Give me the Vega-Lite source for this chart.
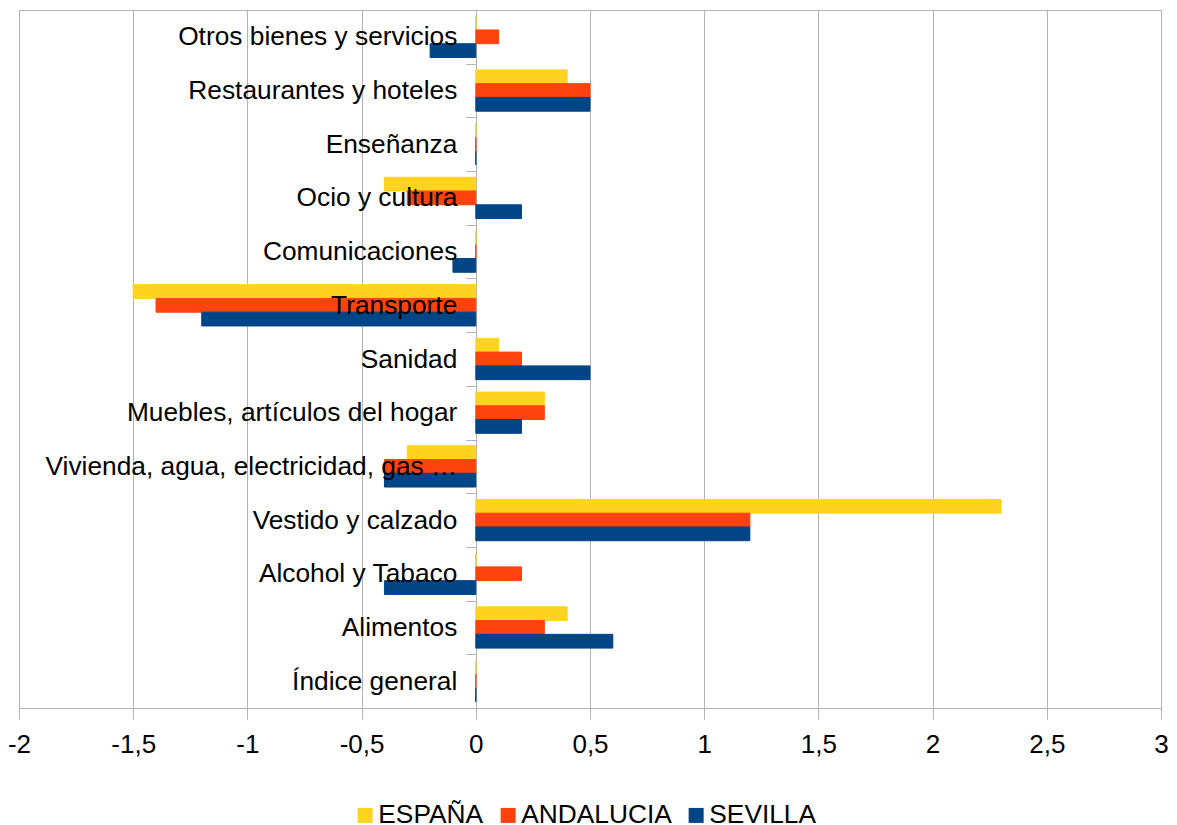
{
  "$schema": "https://vega.github.io/schema/vega-lite/v6.json",
  "width": 1142,
  "height": 698,
  "autosize": {"type": "none"},
  "padding": {"left": 19, "top": 10, "right": 16, "bottom": 117},
  "background": "white",
  "config": {"font": "Liberation Sans", "view": {"stroke": "#b3b3b3"}},
  "data": {
    "values": [
      {"cat": "Otros bienes y servicios", "serie": "ESPAÑA", "v": 0},
      {"cat": "Otros bienes y servicios", "serie": "ANDALUCIA", "v": 0.1},
      {"cat": "Otros bienes y servicios", "serie": "SEVILLA", "v": -0.2},
      {"cat": "Restaurantes y hoteles", "serie": "ESPAÑA", "v": 0.4},
      {"cat": "Restaurantes y hoteles", "serie": "ANDALUCIA", "v": 0.5},
      {"cat": "Restaurantes y hoteles", "serie": "SEVILLA", "v": 0.5},
      {"cat": "Enseñanza", "serie": "ESPAÑA", "v": 0},
      {"cat": "Enseñanza", "serie": "ANDALUCIA", "v": 0},
      {"cat": "Enseñanza", "serie": "SEVILLA", "v": 0},
      {"cat": "Ocio y cultura", "serie": "ESPAÑA", "v": -0.4},
      {"cat": "Ocio y cultura", "serie": "ANDALUCIA", "v": -0.3},
      {"cat": "Ocio y cultura", "serie": "SEVILLA", "v": 0.2},
      {"cat": "Comunicaciones", "serie": "ESPAÑA", "v": 0},
      {"cat": "Comunicaciones", "serie": "ANDALUCIA", "v": 0},
      {"cat": "Comunicaciones", "serie": "SEVILLA", "v": -0.1},
      {"cat": "Transporte", "serie": "ESPAÑA", "v": -1.5},
      {"cat": "Transporte", "serie": "ANDALUCIA", "v": -1.4},
      {"cat": "Transporte", "serie": "SEVILLA", "v": -1.2},
      {"cat": "Sanidad", "serie": "ESPAÑA", "v": 0.1},
      {"cat": "Sanidad", "serie": "ANDALUCIA", "v": 0.2},
      {"cat": "Sanidad", "serie": "SEVILLA", "v": 0.5},
      {"cat": "Muebles, artículos del hogar", "serie": "ESPAÑA", "v": 0.3},
      {"cat": "Muebles, artículos del hogar", "serie": "ANDALUCIA", "v": 0.3},
      {"cat": "Muebles, artículos del hogar", "serie": "SEVILLA", "v": 0.2},
      {"cat": "Vivienda, agua, electricidad, gas …", "serie": "ESPAÑA", "v": -0.3},
      {"cat": "Vivienda, agua, electricidad, gas …", "serie": "ANDALUCIA", "v": -0.4},
      {"cat": "Vivienda, agua, electricidad, gas …", "serie": "SEVILLA", "v": -0.4},
      {"cat": "Vestido y calzado", "serie": "ESPAÑA", "v": 2.3},
      {"cat": "Vestido y calzado", "serie": "ANDALUCIA", "v": 1.2},
      {"cat": "Vestido y calzado", "serie": "SEVILLA", "v": 1.2},
      {"cat": "Alcohol y Tabaco", "serie": "ESPAÑA", "v": 0},
      {"cat": "Alcohol y Tabaco", "serie": "ANDALUCIA", "v": 0.2},
      {"cat": "Alcohol y Tabaco", "serie": "SEVILLA", "v": -0.4},
      {"cat": "Alimentos", "serie": "ESPAÑA", "v": 0.4},
      {"cat": "Alimentos", "serie": "ANDALUCIA", "v": 0.3},
      {"cat": "Alimentos", "serie": "SEVILLA", "v": 0.6},
      {"cat": "Índice general", "serie": "ESPAÑA", "v": 0},
      {"cat": "Índice general", "serie": "ANDALUCIA", "v": 0},
      {"cat": "Índice general", "serie": "SEVILLA", "v": 0}
    ]
  },
  "mark": {"type": "bar", "strokeWidth": 1},
  "encoding": {
    "y": {
      "field": "cat",
      "type": "nominal",
      "sort": null,
      "scale": {"paddingInner": 0, "paddingOuter": 0},
      "axis": {
        "title": null,
        "offset": -456.8,
        "zindex": 1,
        "tickBand": "extent",
        "tickSize": 10,
        "tickColor": "#b3b3b3",
        "domain": false,
        "labelFontSize": 26.3,
        "labelColor": "black",
        "labelPadding": 9,
        "labelLimit": 0,
        "grid": false
      }
    },
    "yOffset": {
      "field": "serie",
      "sort": ["ESPAÑA", "ANDALUCIA", "SEVILLA"],
      "scale": {"paddingInner": 0, "paddingOuter": 0.45}
    },
    "x": {
      "field": "v",
      "type": "quantitative",
      "scale": {"domain": [-2, 3], "nice": false, "zero": false},
      "axis": {
        "title": null,
        "values": [-2, -1.5, -1, -0.5, 0, 0.5, 1, 1.5, 2, 2.5, 3],
        "labelExpr": "replace(toString(datum.value), '.', ',')",
        "grid": true,
        "gridColor": "#b3b3b3",
        "domainColor": "#b3b3b3",
        "tickColor": "#b3b3b3",
        "tickSize": 11,
        "labelPadding": 12,
        "labelFontSize": 26,
        "labelColor": "black",
        "labelFlush": false
      }
    },
    "color": {
      "field": "serie",
      "type": "nominal",
      "sort": ["ESPAÑA", "ANDALUCIA", "SEVILLA"],
      "scale": {"domain": ["ESPAÑA", "ANDALUCIA", "SEVILLA"], "range": ["#FFD320", "#FF420E", "#004586"]},
      "legend": {
        "title": null,
        "orient": "none",
        "direction": "horizontal",
        "legendX": 333,
        "legendY": 792,
        "symbolType": "square",
        "symbolSize": 225,
        "symbolStrokeWidth": 0,
        "labelFontSize": 26.3,
        "labelColor": "black",
        "labelOffset": 0,
        "columnPadding": 11
      }
    },
    "stroke": {
      "field": "serie",
      "type": "nominal",
      "scale": {"domain": ["ESPAÑA", "ANDALUCIA", "SEVILLA"], "range": ["#FFD320", "#FF420E", "#004586"]},
      "legend": null
    }
  }
}
